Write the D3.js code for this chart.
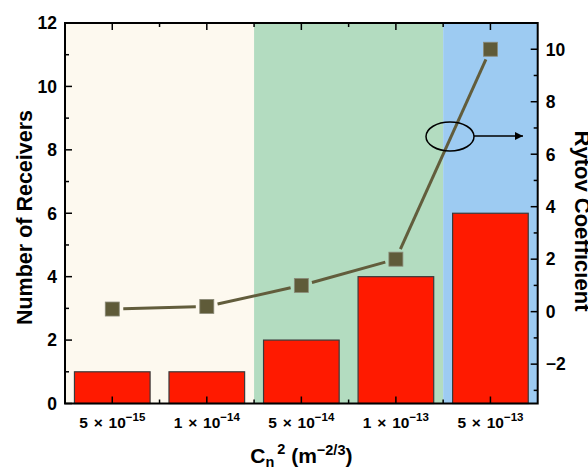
<!DOCTYPE html>
<html>
<head>
<meta charset="utf-8">
<script src="https://cdn.jsdelivr.net/npm/d3@7"></script>
<style>
body{margin:0;background:#fff;}
svg{display:block;font-family:Arial,"Liberation Sans",sans-serif;font-weight:bold;}
</style>
</head>
<body>
<svg id="c" width="588" height="468"></svg>
<script>
const categories = ["5|-15","1|-14","5|-14","1|-13","5|-13"];
const receivers = [1,1,2,4,6];
const rytov = [0.1,0.2,1.0,2.0,10.0];
const leftTicks = [0,2,4,6,8,10,12];
const rightTicks = [-2,0,2,4,6,8,10];
const regions = [
  {from:0,to:2,color:"#fdf9ef"},
  {from:2,to:4,color:"#b3dcc0"},
  {from:4,to:5,color:"#9dcbf2"}
];

const svg = d3.select("#c");
const L=65,R=537.7,T=23,B=403.5;
const x = d3.scaleBand().domain(d3.range(categories.length)).range([L,R]).paddingInner(0.2).paddingOuter(0.1);
const step = x.step();
const yL = d3.scaleLinear().domain([0,12]).range([B,T]);
const yR = d3.scaleLinear().domain([-3.5,11]).range([B,T]);
const cx = i => x(i)+x.bandwidth()/2;
const edge = i => L + i*step;

// background regions
svg.selectAll("rect.bg").data(regions).enter().append("rect")
  .attr("x",d=>edge(d.from)).attr("y",T)
  .attr("width",d=>edge(d.to)-edge(d.from)).attr("height",B-T)
  .attr("fill",d=>d.color);

// bars
svg.selectAll("rect.bar").data(receivers).enter().append("rect")
  .attr("x",(d,i)=>x(i)).attr("y",d=>yL(d))
  .attr("width",x.bandwidth()).attr("height",d=>B-yL(d))
  .attr("fill","#ff1a00").attr("stroke","#3a3a3a").attr("stroke-width",1.2);

// line with gaps
const pts = rytov.map((v,i)=>[cx(i),yR(v)]);
const gap = 11;
for(let i=0;i<pts.length-1;i++){
  const [x1,y1]=pts[i],[x2,y2]=pts[i+1];
  const dx=x2-x1,dy=y2-y1,len=Math.hypot(dx,dy);
  const ux=dx/len,uy=dy/len;
  svg.append("line")
    .attr("x1",x1+ux*gap).attr("y1",y1+uy*gap)
    .attr("x2",x2-ux*gap).attr("y2",y2-uy*gap)
    .attr("stroke","#625d3c").attr("stroke-width",3);
}
svg.selectAll("rect.mk").data(pts).enter().append("rect")
  .attr("x",d=>d[0]-7).attr("y",d=>d[1]-7).attr("width",14).attr("height",14)
  .attr("fill","#5f5b39").attr("stroke","#8a8a78").attr("stroke-width",0.8);

// axes
const ax = svg.append("g").attr("stroke","#000").attr("fill","none");
ax.append("rect").attr("x",L).attr("y",T).attr("width",R-L).attr("height",B-T).attr("stroke-width",2);
d3.range(0,13).forEach(v=>{
  const len = v%2===0?7:4;
  ax.append("line").attr("x1",L).attr("x2",L+len).attr("y1",yL(v)).attr("y2",yL(v)).attr("stroke-width",1.5);
});
d3.range(-3,12).forEach(v=>{
  const len = v%2===0?7:4;
  ax.append("line").attr("x1",R).attr("x2",R-len).attr("y1",yR(v)).attr("y2",yR(v)).attr("stroke-width",1.5);
});
categories.forEach((c,i)=>{
  ax.append("line").attr("x1",cx(i)).attr("x2",cx(i)).attr("y1",B).attr("y2",B-7).attr("stroke-width",1.5);
  ax.append("line").attr("x1",cx(i)).attr("x2",cx(i)).attr("y1",T).attr("y2",T+7).attr("stroke-width",1.5);
});
d3.range(1,categories.length).forEach(i=>{
  ax.append("line").attr("x1",edge(i)).attr("x2",edge(i)).attr("y1",B).attr("y2",B-4).attr("stroke-width",1.5);
  ax.append("line").attr("x1",edge(i)).attr("x2",edge(i)).attr("y1",T).attr("y2",T+4).attr("stroke-width",1.5);
});

// tick labels
svg.selectAll("text.yl").data(leftTicks).enter().append("text")
  .attr("x",L-8).attr("y",d=>yL(d)).attr("dy","0.36em").attr("text-anchor","end")
  .attr("font-size",17.5).text(d=>d);
svg.selectAll("text.yr").data(rightTicks).enter().append("text")
  .attr("x",R+8).attr("y",d=>yR(d)).attr("dy","0.36em").attr("text-anchor","start")
  .attr("font-size",17.5).text(d=>d<0?"\u2212"+Math.abs(d):d);
categories.forEach((c,i)=>{
  const [m,e]=c.split("|");
  const t = svg.append("text").attr("x",cx(i)).attr("y",427.5).attr("text-anchor","middle")
    .attr("font-size",15.5).attr("word-spacing",1.5);
  t.append("tspan").text(m+" \u00d7 10");
  t.append("tspan").attr("dy",-6.5).attr("font-size",11.5).text(e.replace("-","\u2212"));
});

// axis titles
svg.append("text").attr("transform",`translate(32,${217.5}) rotate(-90)`)
  .attr("text-anchor","middle").attr("font-size",21.5).text("Number of Receivers");
svg.append("text").attr("transform",`translate(575,${221}) rotate(90)`)
  .attr("text-anchor","middle").attr("font-size",22).text("Rytov Coefficient");
const xt = svg.append("text").attr("x",(L+R)/2).attr("y",462.5).attr("text-anchor","middle").attr("font-size",21);
xt.append("tspan").text("C");
xt.append("tspan").attr("dy",4).attr("font-size",14.5).text("n");
xt.append("tspan").attr("dy",-13).attr("font-size",14.5).attr("dx",3).text("2");
xt.append("tspan").attr("dy",9).text(" (m");
xt.append("tspan").attr("dy",-8).attr("font-size",14.5).text("\u22122/3");
xt.append("tspan").attr("dy",8).text(")");

// ellipse + arrow annotation
svg.append("defs").append("marker").attr("id","ah").attr("viewBox","0 0 10 10")
  .attr("refX",10).attr("refY",5).attr("markerWidth",12).attr("markerHeight",8)
  .attr("markerUnits","userSpaceOnUse").attr("orient","auto")
  .append("path").attr("d","M0,0L10,5L0,10Z").attr("fill","#000");
svg.append("ellipse").attr("cx",450).attr("cy",136.5).attr("rx",24).attr("ry",14.5)
  .attr("fill","none").attr("stroke","#000").attr("stroke-width",1.5);
svg.append("line").attr("x1",474).attr("y1",136).attr("x2",523).attr("y2",136)
  .attr("stroke","#000").attr("stroke-width",1.5).attr("marker-end","url(#ah)");
</script>
</body>
</html>
